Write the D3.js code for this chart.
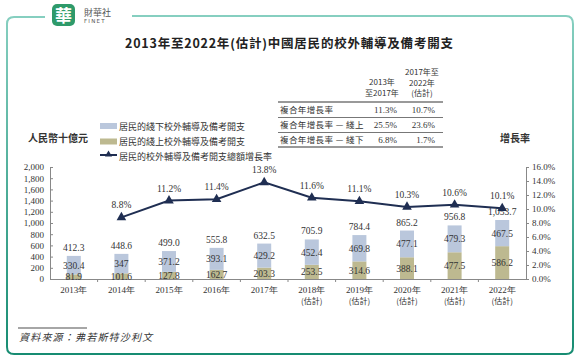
<!DOCTYPE html>
<html><head><meta charset="utf-8">
<script src="https://cdn.jsdelivr.net/npm/d3@7/dist/d3.min.js"></script>
<style>
html,body{margin:0;padding:0;background:#fff;}
svg{display:block;}
</style></head>
<body>
<script>
const years = ["2013年","2014年","2015年","2016年","2017年","2018年","2019年","2020年","2021年","2022年"];
const estimated = [false,false,false,false,false,true,true,true,true,true];
const online = [81.9,101.6,127.8,162.7,203.3,253.5,314.6,388.1,477.5,586.2];
const offline = [330.4,347,371.2,393.1,429.2,452.4,469.8,477.1,479.3,467.5];
const totalLabels = ["412.3","448.6","499.0","555.8","632.5","705.9","784.4","865.2","956.8","1,053.7"];
const onlineLabels = ["81.9","101.6","127.8","162.7","203.3","253.5","314.6","388.1","477.5","586.2"];
const offlineLabels = ["330.4","347","371.2","393.1","429.2","452.4","469.8","477.1","479.3","467.5"];
const growth = [null,8.8,11.2,11.4,13.8,11.6,11.1,10.3,10.6,10.1];
const leftTicks = [0,200,400,600,800,1000,1200,1400,1600,1800,2000];
const rightTicks = [0,2,4,6,8,10,12,14,16];
const tableHeaders = [["2013年","至2017年"],["2017年至","2022年","(估計)"]];
const tableRows = ["複合年增長率","複合年增長率 — 綫上","複合年增長率 — 綫下"];
const tableCol1 = ["11.3%","25.5%","6.8%"];
const tableCol2 = ["10.7%","23.6%","1.7%"];
const legendLabels = ["居民的綫下校外輔導及備考開支","居民的綫上校外輔導及備考開支","居民的校外輔導及備考開支總額增長率"];

const W=580,H=359;
const serif = "'Liberation Serif','Times New Roman',serif";
const cjk = "'Noto Sans CJK TC','Noto Sans CJK SC',sans-serif";
const svg = d3.select("body").append("svg").attr("width",W).attr("height",H);

const defs = svg.append("defs");
const g = defs.append("linearGradient").attr("id","fg").attr("x1",0).attr("y1",0).attr("x2",0).attr("y2",1);
g.append("stop").attr("offset","0%").attr("stop-color","#86cfc0");
g.append("stop").attr("offset","100%").attr("stop-color","#178c72");

svg.append("path")
  .attr("d","M45,17 L14,17 Q7,17 7,24 L7,347 Q7,354 14,354 L566,354 Q573,354 573,347 L573,24 Q573,16 566,16 L132,16")
  .attr("fill","none").attr("stroke","url(#fg)").attr("stroke-width",2);

// logo
svg.append("rect").attr("x",52).attr("y",4).attr("width",23).attr("height",22).attr("rx",5).attr("fill","#2e9a6a");
svg.append("text").attr("x",63.5).attr("y",22).attr("text-anchor","middle").attr("font-family",cjk).attr("font-weight","bold")
  .attr("font-size",17).attr("fill","#fff").text("華");
svg.append("text").attr("x",84).attr("y",16).attr("font-family",cjk).attr("font-size",9).attr("fill","#555").text("財華社");
svg.append("text").attr("x",84).attr("y",23).attr("font-family","'DejaVu Sans',sans-serif").attr("font-size",5.5).attr("fill","#555")
  .attr("letter-spacing",1.2).text("FINET");

// title
svg.append("text").attr("x",125).attr("y",48).attr("font-family",cjk).attr("font-weight","bold").attr("font-size",12.5)
  .attr("fill","#222").attr("textLength",328).attr("lengthAdjust","spacing")
  .text("2013年至2022年(估計)中國居民的校外輔導及備考開支");

// table
const tb = svg.append("g").attr("fill","#333");
const c1x=397, c2x=435;
tb.append("text").attr("x",382).attr("y",85).attr("text-anchor","middle").attr("font-family",cjk).attr("font-size",8).text(tableHeaders[0][0]);
tb.append("text").attr("x",382).attr("y",96).attr("text-anchor","middle").attr("font-family",cjk).attr("font-size",8).text(tableHeaders[0][1]);
tableHeaders[1].forEach((t,i)=>{
  tb.append("text").attr("x",422).attr("y",75+i*10.5).attr("text-anchor","middle").attr("font-family",cjk).attr("font-size",8).text(t);
});
[102,117.5,132.5,147].forEach((y,i)=>{
  tb.append("line").attr("x1",278).attr("x2",443).attr("y1",y).attr("y2",y).attr("stroke","#777").attr("stroke-width",i===0||i===3?1.4:1.2);
});
tableRows.forEach((t,i)=>{
  const y = 113+i*15;
  tb.append("text").attr("x",280).attr("y",y).attr("font-family",cjk).attr("font-size",8.5).attr("letter-spacing",0.4).text(t);
  tb.append("text").attr("x",c1x).attr("y",y).attr("text-anchor","end").attr("font-family",serif).attr("font-size",9).text(tableCol1[i]);
  tb.append("text").attr("x",c2x).attr("y",y).attr("text-anchor","end").attr("font-family",serif).attr("font-size",9).text(tableCol2[i]);
});

// axis titles
svg.append("text").attr("x",28).attr("y",142).attr("font-family",cjk).attr("font-weight","bold").attr("font-size",10).attr("fill","#333").text("人民幣十億元");
svg.append("text").attr("x",500).attr("y",142).attr("font-family",cjk).attr("font-weight","bold").attr("font-size",10).attr("fill","#333").text("增長率");

// scales
const x = d3.scaleBand().domain(years).range([50,526]);
const y = d3.scaleLinear().domain([0,2000]).range([279,167]);
const y2 = d3.scaleLinear().domain([0,16]).range([279,167]);
const colOn = "#bdb990", colOff = "#bac7dc", colLine = "#1f2e52";

// legend
const lg = svg.append("g");
[colOff,colOn].forEach((c,i)=>{
  lg.append("rect").attr("x",100).attr("y",123+i*15.5).attr("width",17).attr("height",6).attr("fill",c);
});
lg.append("line").attr("x1",100).attr("x2",117).attr("y1",155).attr("y2",155).attr("stroke",colLine).attr("stroke-width",2);
lg.append("path").attr("d",d3.symbol().type(d3.symbolTriangle).size(22)).attr("transform","translate(108.5,154.5)").attr("fill",colLine);
legendLabels.forEach((t,i)=>{
  lg.append("text").attr("x",119).attr("y",130+i*15).attr("font-family",cjk).attr("font-size",9).attr("fill","#333").text(t);
});

// axes
const gridColor="#888";
const la = svg.append("g").attr("transform","translate(50,0)")
  .call(d3.axisLeft(y).tickValues(leftTicks).tickSize(-3).tickPadding(6).tickFormat(d3.format(",")));
la.selectAll("text").attr("font-family",serif).attr("font-size",9).attr("fill","#333");
la.selectAll("line,path").attr("stroke",gridColor);
const ra = svg.append("g").attr("transform","translate(526,0)")
  .call(d3.axisRight(y2).tickValues(rightTicks).tickSize(3).tickPadding(3).tickFormat(d=>d.toFixed(1)+"%"));
ra.selectAll("text").attr("font-family",serif).attr("font-size",9).attr("fill","#333");
ra.selectAll("line,path").attr("stroke",gridColor);
const ba = svg.append("g").attr("transform","translate(0,279)")
  .call(d3.axisBottom(x).tickSize(0).tickFormat(""));
ba.select("path").attr("stroke",gridColor);
ba.selectAll(".sep").data(years.slice(1)).enter().append("line").attr("class","sep")
  .attr("x1",d=>x(d)).attr("x2",d=>x(d)).attr("y1",0).attr("y2",3).attr("stroke",gridColor);
const xl = svg.append("g");
years.forEach((yr,i)=>{
  const cx = x(yr)+x.bandwidth()/2;
  xl.append("text").attr("x",cx).attr("y",293).attr("text-anchor","middle").attr("font-family",serif).attr("font-size",9).attr("fill","#333").text(yr);
  if(estimated[i]) xl.append("text").attr("x",cx).attr("y",304).attr("text-anchor","middle").attr("font-family",cjk).attr("font-size",8).attr("fill","#333").text("(估計)");
});

// bars
const bw = 14;
const bars = svg.append("g");
years.forEach((yr,i)=>{
  const cx = x(yr)+x.bandwidth()/2;
  bars.append("rect").attr("x",cx-bw/2).attr("width",bw).attr("y",y(online[i])).attr("height",y(0)-y(online[i])).attr("fill",colOn);
  bars.append("rect").attr("x",cx-bw/2).attr("width",bw).attr("y",y(online[i]+offline[i])).attr("height",y(online[i])-y(online[i]+offline[i])).attr("fill",colOff);
});
const lbl = svg.append("g").attr("font-family",serif).attr("font-size",9.5).attr("fill","#333").attr("text-anchor","middle");
years.forEach((yr,i)=>{
  const cx = x(yr)+x.bandwidth()/2;
  lbl.append("text").attr("x",cx).attr("y",(y(0)+y(online[i]))/2+3.5).text(onlineLabels[i]);
  lbl.append("text").attr("x",cx).attr("y",(y(online[i])+y(online[i]+offline[i]))/2+3.5).text(offlineLabels[i]);
  lbl.append("text").attr("x",cx).attr("y",y(online[i]+offline[i])-5).text(totalLabels[i]);
});

// growth line
const pts = years.map((yr,i)=>({x:x(yr)+x.bandwidth()/2, v:growth[i]})).filter(d=>d.v!==null);
svg.append("path").datum(pts).attr("fill","none").attr("stroke",colLine).attr("stroke-width",2)
  .attr("d",d3.line().x(d=>d.x).y(d=>y2(d.v)));
svg.append("g").selectAll("path").data(pts).enter().append("path")
  .attr("d",d3.symbol().type(d3.symbolTriangle).size(40))
  .attr("transform",d=>`translate(${d.x},${y2(d.v)})`).attr("fill",colLine);
svg.append("g").selectAll("text").data(pts).enter().append("text")
  .attr("x",d=>d.x).attr("y",d=>y2(d.v)-9).attr("text-anchor","middle")
  .attr("font-family",serif).attr("font-size",9.5).attr("fill","#333").text(d=>d.v.toFixed(1)+"%");

// source
svg.append("line").attr("x1",18).attr("x2",87).attr("y1",328).attr("y2",328).attr("stroke","#888").attr("stroke-width",1.5);
svg.append("text").attr("x",19).attr("y",341).attr("font-family",cjk).attr("font-size",10).attr("font-style","italic").attr("fill","#333")
  .attr("letter-spacing",1.2).text("資料來源：弗若斯特沙利文");
</script>
</body></html>
